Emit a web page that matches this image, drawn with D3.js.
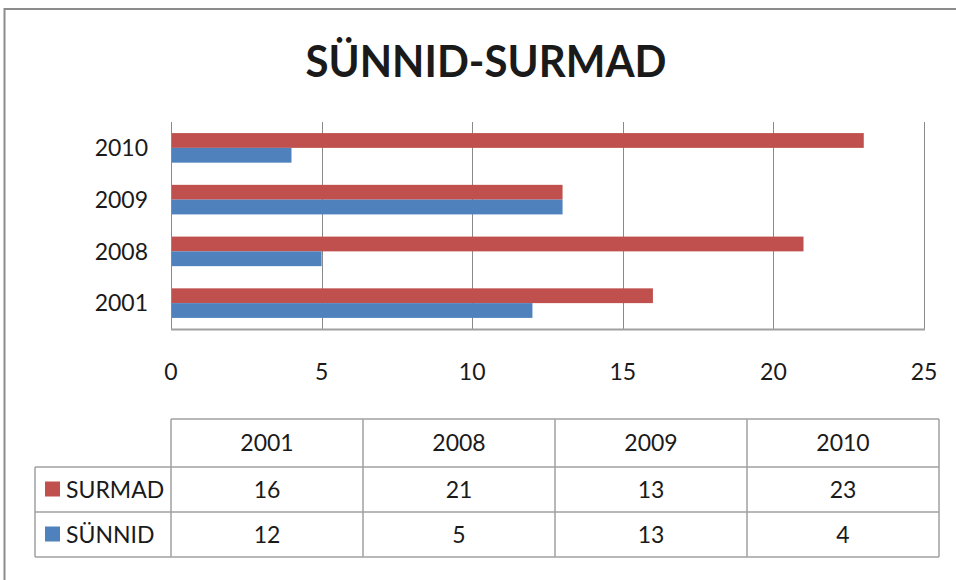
<!DOCTYPE html>
<html>
<head>
<meta charset="utf-8">
<script src="https://cdn.jsdelivr.net/npm/d3@7"></script>
<style>
  body { margin: 0; background: #fff; }
  text { font-family: Lato, "Open Sans", sans-serif; fill: #1a1a1a; }
</style>
</head>
<body>
<div id="chart"></div>
<script>
(function () {
  // data
  var years = ["2001", "2008", "2009", "2010"];
  var surmad = [16, 21, 13, 23];
  var sunnid = [12, 5, 13, 4];
  var xTicks = [0, 5, 10, 15, 20, 25];
  var seriesNames = ["SURMAD", "SÜNNID"];
  var seriesColors = ["#C0504D", "#4F81BD"];

  var W = 956, H = 580;
  var svg = d3.select("#chart").append("svg")
      .attr("width", W)
      .attr("height", H);

  // outer frame (only top and left edges visible)
  svg.append("path")
      .attr("d", "M4.5," + H + "V9H" + W)
      .attr("fill", "none")
      .attr("stroke", "#8c8c8c")
      .attr("stroke-width", 2);

  svg.append("text")
      .attr("x", 486)
      .attr("y", 77)
      .attr("text-anchor", "middle")
      .style("font-weight", "bold")
      .style("font-size", "43px")
      .attr("textLength", 361)
      .attr("lengthAdjust", "spacingAndGlyphs")
      .attr("fill", "#000")
      .text("SÜNNID-SURMAD");

  // plot area
  var left = 171, right = 924, top = 122, bottom = 329;

  var x = d3.scaleLinear().domain([0, 25]).range([left, right]);
  var y = d3.scaleBand().domain(years.slice().reverse()).range([top, bottom]);
  // gap width 75%
  var inner = y.bandwidth() / 1.75;
  var yInner = d3.scaleBand().domain(seriesNames).range([0, inner]);

  // gridlines
  svg.append("g").selectAll("line")
      .data(xTicks)
      .enter().append("line")
      .attr("x1", function(d) { return Math.round(x(d)) + 0.5; })
      .attr("x2", function(d) { return Math.round(x(d)) + 0.5; })
      .attr("y1", top)
      .attr("y2", bottom)
      .attr("stroke", "#8a8a8a")
      .attr("stroke-width", 1);

  // bars
  var series = [surmad, sunnid];
  series.forEach(function(vals, si) {
    svg.append("g").selectAll("rect")
        .data(years)
        .enter().append("rect")
        .attr("x", x(0))
        .attr("y", function(d) {
          return y(d) + (y.bandwidth() - inner) / 2 + yInner(seriesNames[si]);
        })
        .attr("width", function(d, i) { return x(vals[i]) - x(0); })
        .attr("height", yInner.bandwidth())
        .attr("fill", seriesColors[si]);
  });

  // axes lines
  svg.append("line")
      .attr("x1", left + 0.5).attr("x2", left + 0.5)
      .attr("y1", top).attr("y2", bottom)
      .attr("stroke", "#8a8a8a");
  svg.append("line")
      .attr("x1", left).attr("x2", Math.round(x(25)) + 1)
      .attr("y1", bottom + 0.5).attr("y2", bottom + 0.5)
      .attr("stroke", "#a0a0a0").attr("stroke-width", 2);

  // category labels
  svg.append("g").selectAll("text")
      .data(years)
      .enter().append("text")
      .attr("x", 148)
      .attr("y", function(d) { return y(d) + y.bandwidth() / 2; })
      .attr("dy", "0.36em")
      .attr("text-anchor", "end")
      .style("font-size", "23px")
      .text(function(d) { return d; });

  // x tick labels
  svg.append("g").selectAll("text")
      .data(xTicks)
      .enter().append("text")
      .attr("x", function(d) { return x(d); })
      .attr("y", 372)
      .attr("dy", "0.36em")
      .attr("text-anchor", "middle")
      .style("font-size", "23px")
      .text(function(d) { return d; });

  // data table
  var cols = [171, 363, 555, 747, 939];
  var rows = [419, 467, 512, 557];
  var legendLeft = 35;
  var tbl = svg.append("g")
      .attr("fill", "none")
      .attr("stroke", "#a0a0a0")
      .attr("stroke-width", 1.5);

  // horizontal lines
  tbl.append("line").attr("x1", cols[0]).attr("x2", cols[4]).attr("y1", rows[0]).attr("y2", rows[0]);
  [rows[1], rows[2], rows[3]].forEach(function(r) {
    tbl.append("line").attr("x1", legendLeft).attr("x2", cols[4]).attr("y1", r).attr("y2", r);
  });
  // vertical lines
  cols.forEach(function(c) {
    tbl.append("line").attr("x1", c).attr("x2", c).attr("y1", rows[0]).attr("y2", rows[3]);
  });
  tbl.append("line").attr("x1", legendLeft).attr("x2", legendLeft).attr("y1", rows[1]).attr("y2", rows[3]);

  var colCenter = function(i) { return (cols[i] + cols[i + 1]) / 2; };
  var rowCenter = function(i) { return (rows[i] + rows[i + 1]) / 2; };

  svg.append("g").selectAll("text")
      .data(years)
      .enter().append("text")
      .attr("x", function(d, i) { return colCenter(i); })
      .attr("y", rowCenter(0))
      .attr("dy", "0.36em")
      .attr("text-anchor", "middle")
      .style("font-size", "23px")
      .text(function(d) { return d; });

  series.forEach(function(vals, si) {
    var g = svg.append("g");
    g.append("rect")
        .attr("x", 45)
        .attr("y", rowCenter(si + 1) - 8)
        .attr("width", 15)
        .attr("height", 15)
        .attr("fill", seriesColors[si]);
    g.append("text")
        .attr("x", 66)
        .attr("y", rowCenter(si + 1))
        .attr("dy", "0.36em")
        .style("font-size", "23px")
        .text(seriesNames[si]);
    g.selectAll("text.v")
        .data(vals)
        .enter().append("text")
        .attr("class", "v")
        .attr("x", function(d, i) { return colCenter(i); })
        .attr("y", rowCenter(si + 1))
        .attr("dy", "0.36em")
        .attr("text-anchor", "middle")
        .style("font-size", "23px")
        .text(function(d) { return d; });
  });
})();
</script>
</body>
</html>
